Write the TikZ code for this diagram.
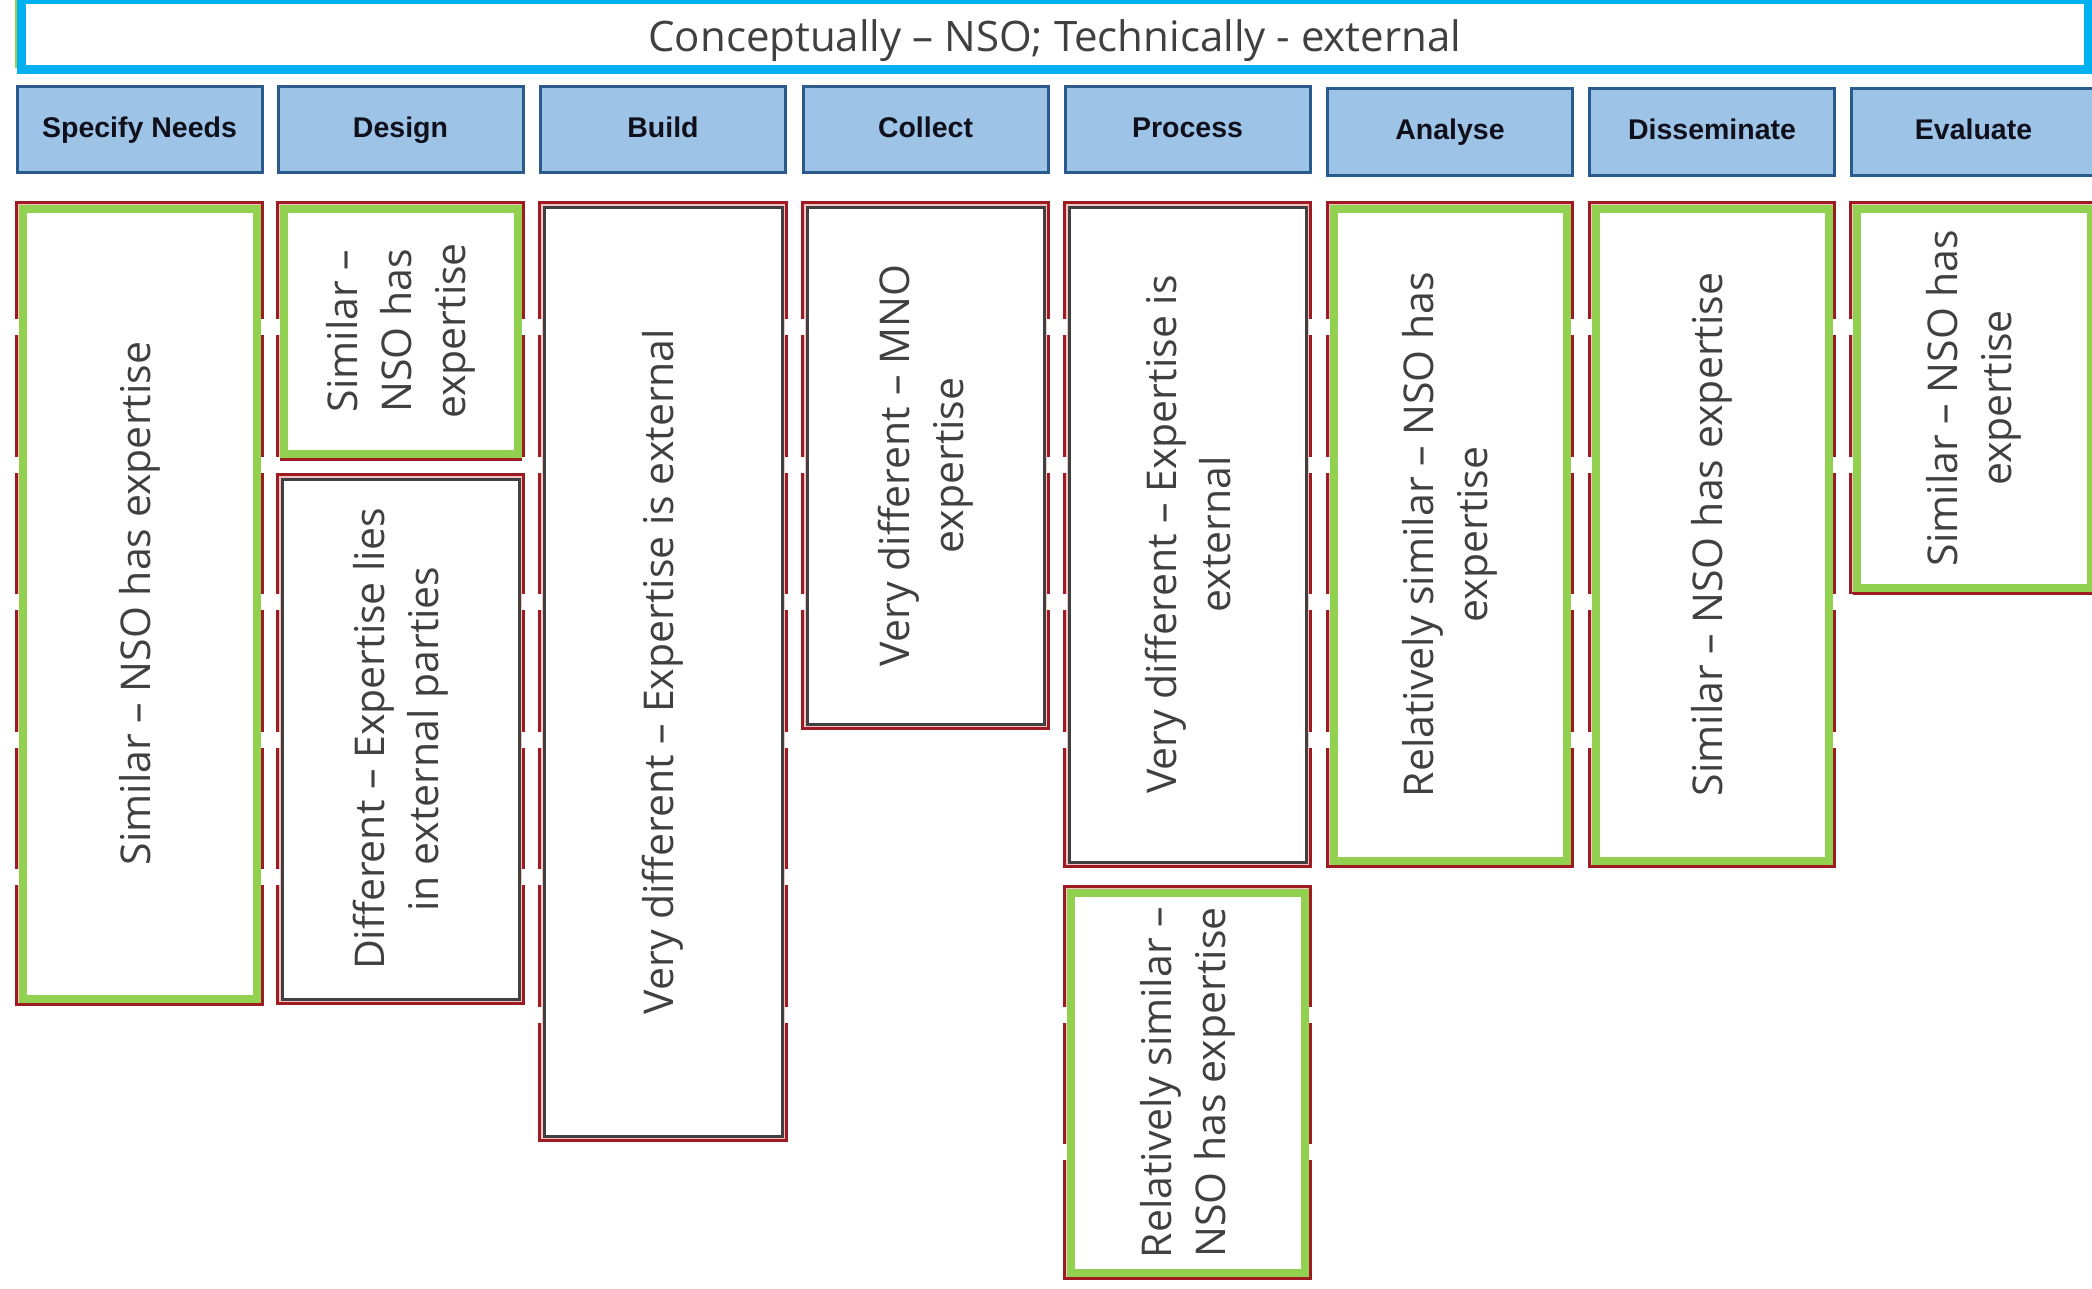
\documentclass[tikz,border=0pt]{standalone}
\usepackage{fontspec}
\setmainfont{Open Sans}
\newfontfamily\hdrfont{Liberation Sans}
\definecolor{redline}{HTML}{9E1B22}
\definecolor{pinkline}{HTML}{F4C2C2}
\definecolor{greenline}{HTML}{92D050}
\definecolor{grayline}{HTML}{404040}
\definecolor{txtgray}{HTML}{404040}
\definecolor{titleblue}{HTML}{00B0F0}
\definecolor{hdrfill}{HTML}{9DC3E6}
\definecolor{hdrdraw}{HTML}{2A5B8C}
\definecolor{hdrtext}{HTML}{10101C}
\tikzset{
  outerbox/.style={draw=redline, line width=3pt, rectangle, outer sep=0pt, inner sep=0pt, fill=white},
  pinkin/.style={draw=pinkline, line width=1.5pt},
  greenin/.style={draw=greenline, line width=8pt},
  grayin/.style={draw=grayline, line width=3pt},
  boxtext/.style={rotate=90, align=center, text=txtgray, font=\fontsize{41}{54}\selectfont, inner sep=0pt},
  hdrbox/.style={draw=hdrdraw, fill=hdrfill, line width=3pt, outer sep=0pt, inner sep=0pt, minimum width=245pt, font=\hdrfont\bfseries\fontsize{28.5}{34}\selectfont, text=hdrtext, text height=21pt, text depth=6pt},
  titlebox/.style={draw=titleblue, line width=9pt, outer sep=0pt, inner sep=0pt},
  titletext/.style={font=\fontsize{42}{50}\selectfont, text=txtgray, inner sep=0pt},
  gapmask/.style={fill=white, draw=none},
}
\newcommand\mkstage[5]{%
  \node[outerbox, minimum width={#4-#2-3}, minimum height={#5-#3-3}] (#1) at ({(#2+#4)/2},{(#3+#5)/2}) {};
  \draw[pinkin] ([shift={(2.25,2.25)}]#1.north west) rectangle ([shift={(-2.25,-2.25)}]#1.south east);%
}
\newcommand\greeninner[1]{\draw[greenin] ([shift={(6,6)}]#1.north west) rectangle ([shift={(-6,-6)}]#1.south east);}
\newcommand\grayinner[1]{\draw[grayin] ([shift={(4.5,4.5)}]#1.north west) rectangle ([shift={(-4.5,-4.5)}]#1.south east);}
\begin{document}
\begin{tikzpicture}[x=1pt, y=-1pt]
\useasboundingbox (0,0) rectangle (2092,1288);
\clip (0,0) rectangle (2092,1288);
\fill[white] (0,0) rectangle (2092,1288);
% title
\draw[greenline, line width=1.5pt] (16,0) -- (16,68);
\node[titlebox, minimum width=2066.5pt, minimum height=70pt] (title) at (1054.75,34) {};
\node[titletext] (titlelabel) at (1054.75,41) {Conceptually – NSO; Technically - external};
% headers
\node[hdrbox, minimum height=86pt] (h1) at (139.5,129.5) {Specify Needs};
\node[hdrbox, minimum height=86pt] (h2) at (400.5,129.5) {Design};
\node[hdrbox, minimum height=86pt] (h3) at (663,129.5) {Build};
\node[hdrbox, minimum height=86pt] (h4) at (925.5,129.5) {Collect};
\node[hdrbox, minimum height=86pt] (h5) at (1187.5,129.5) {Process};
\node[hdrbox, minimum height=87pt] (h6) at (1450,132) {Analyse};
\node[hdrbox, minimum height=87pt] (h7) at (1712,132) {Disseminate};
\node[hdrbox, minimum height=87pt] (h8) at (1973.5,132) {Evaluate};
% stage boxes (outer red)
\mkstage{specify}{15}{201}{264}{1006}
\mkstage{designa}{276}{201}{525}{461}
\mkstage{designb}{276}{473}{525}{1005}
\mkstage{build}{538}{201}{788}{1142}
\mkstage{collect}{801}{201}{1050}{730}
\mkstage{processa}{1063}{201}{1312}{868}
\mkstage{processb}{1063}{885}{1312}{1280}
\mkstage{analyse}{1326}{201}{1574}{868}
\mkstage{dissem}{1588}{201}{1836}{868}
\mkstage{evaluate}{1849}{201}{2098}{595}
% small breaks in the red outlines
\foreach \gy in {327,464.5,602,739.5,877,1014.5,1152}{
  \foreach \gx/\gw in {10/8.5,260.5/19,521.5/20,784.5/20,1046.5/20,1308.5/21,1570.5/21,1832.5/20}{
    \fill[gapmask] (\gx,\gy-8) rectangle ++(\gw,16);
  }
}
% inner borders
\greeninner{specify}
\greeninner{designa}
\grayinner{designb}
\grayinner{build}
\grayinner{collect}
\grayinner{processa}
\greeninner{processb}
\greeninner{analyse}
\greeninner{dissem}
\greeninner{evaluate}
% texts
\node[boxtext] (tspecify) at (specify.center) {Similar – NSO has expertise};
\node[boxtext] (tdesigna) at (designa.center) {Similar –\\NSO has\\expertise};
\node[boxtext] (tdesignb) at (designb.center) {Different – Expertise lies\\in external parties};
\node[boxtext] (tbuild) at (build.center) {Very different – Expertise is external};
\node[boxtext] (tcollect) at (collect.center) {Very different – MNO\\expertise};
\node[boxtext] (tprocessa) at (processa.center) {Very different – Expertise is\\external};
\node[boxtext] (tprocessb) at (processb.center) {Relatively similar –\\NSO has expertise};
\node[boxtext] (tanalyse) at (analyse.center) {Relatively similar – NSO has\\expertise};
\node[boxtext] (tdissem) at (dissem.center) {Similar – NSO has expertise};
\node[boxtext] (tevaluate) at (evaluate.center) {Similar – NSO has\\expertise};
\end{tikzpicture}
\end{document}
